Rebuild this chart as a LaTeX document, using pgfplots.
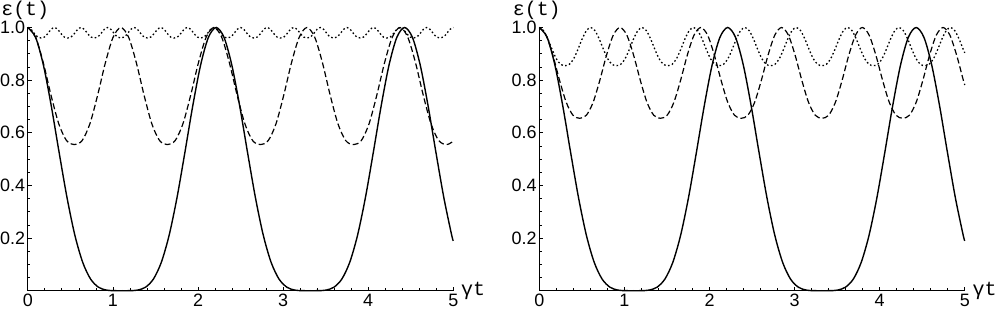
\documentclass[border=0pt]{standalone}
\usepackage{fontspec}
\setmainfont{Liberation Sans}
\newfontfamily\labfont{Liberation Mono}
\usepackage{pgfplots}
\usepackage{pgfplotstable}
\pgfplotsset{compat=1.18}
\newcommand\tl{\fontsize{18}{19}\selectfont}
\newcommand\lf{\labfont\fontsize{20}{22}\selectfont}

% solid curve (same in both panels)
\pgfplotstableread[row sep=\\]{
t v\\
0 1\\ 0.0923 0.9621\\ 0.1845 0.8556\\ 0.2768 0.7003\\ 0.3690 0.5235\\ 0.4613 0.3528\\
0.5535 0.2102\\ 0.6458 0.1072\\ 0.7380 0.0442\\ 0.8303 0.0133\\ 0.9225 0.0023\\ 1.0148 0.0001\\
1.1070 0\\ 1.1993 0.0001\\ 1.2915 0.0023\\ 1.3838 0.0133\\ 1.4760 0.0442\\ 1.5683 0.1072\\
1.6605 0.2102\\ 1.7528 0.3528\\ 1.8450 0.5235\\ 1.9373 0.7003\\ 2.0295 0.8556\\ 2.1218 0.9621\\
2.2140 1\\ 2.3063 0.9621\\ 2.3985 0.8556\\ 2.4908 0.7003\\ 2.5830 0.5235\\ 2.6753 0.3528\\
2.7675 0.2102\\ 2.8598 0.1072\\ 2.9520 0.0442\\ 3.0443 0.0133\\ 3.1365 0.0023\\ 3.2288 0.0001\\
3.3210 0\\ 3.4133 0.0001\\ 3.5055 0.0023\\ 3.5978 0.0133\\ 3.6900 0.0442\\ 3.7823 0.1072\\
3.8745 0.2102\\ 3.9668 0.3528\\ 4.0590 0.5235\\ 4.1513 0.7003\\ 4.2435 0.8556\\ 4.3358 0.9621\\
4.4280 1\\ 4.5203 0.9621\\ 4.6125 0.8556\\ 4.7048 0.7003\\ 4.7970 0.5235\\ 4.8893 0.3528\\
4.9815 0.2102\\ 5 0.1896\\
}\solidtab

% left panel, dashed
\pgfplotstableread[row sep=\\]{
t v\\
0 1\\ 0.0911 0.9631\\ 0.1823 0.8656\\ 0.2734 0.7421\\ 0.3645 0.6337\\ 0.4556 0.5702\\
0.5468 0.555\\ 0.6379 0.5702\\ 0.7290 0.6337\\ 0.8201 0.7421\\ 0.9113 0.8656\\ 1.0024 0.9631\\
1.0935 1\\ 1.1846 0.9631\\ 1.2758 0.8656\\ 1.3669 0.7421\\ 1.4580 0.6337\\ 1.5491 0.5702\\
1.6403 0.555\\ 1.7314 0.5702\\ 1.8225 0.6337\\ 1.9136 0.7421\\ 2.0048 0.8656\\ 2.0959 0.9631\\
2.1870 1\\ 2.2781 0.9631\\ 2.3693 0.8656\\ 2.4604 0.7421\\ 2.5515 0.6337\\ 2.6426 0.5702\\
2.7338 0.555\\ 2.8249 0.5702\\ 2.9160 0.6337\\ 3.0071 0.7421\\ 3.0983 0.8656\\ 3.1894 0.9631\\
3.2805 1\\ 3.3716 0.9631\\ 3.4628 0.8656\\ 3.5539 0.7421\\ 3.6450 0.6337\\ 3.7361 0.5702\\
3.8273 0.555\\ 3.9184 0.5702\\ 4.0095 0.6337\\ 4.1006 0.7421\\ 4.1918 0.8656\\ 4.2829 0.9631\\
4.3740 1\\ 4.4651 0.9631\\ 4.5563 0.8656\\ 4.6474 0.7421\\ 4.7385 0.6337\\ 4.8296 0.5702\\
4.9208 0.555\\ 5 0.568\\
}\leftdashed

% left panel, dotted
\pgfplotstableread[row sep=\\]{
t v\\
0 1\\ 0.0391 0.9928\\ 0.0781 0.9768\\ 0.1172 0.9636\\ 0.1563 0.96\\ 0.1953 0.9636\\ 0.2344 0.9768\\ 0.2734 0.9928\\
0.3125 1\\ 0.3516 0.9928\\ 0.3906 0.9768\\ 0.4297 0.9636\\ 0.4688 0.96\\ 0.5078 0.9636\\ 0.5469 0.9768\\ 0.5859 0.9928\\
0.625 1\\ 0.6641 0.9928\\ 0.7031 0.9768\\ 0.7422 0.9636\\ 0.7813 0.96\\ 0.8203 0.9636\\ 0.8594 0.9768\\ 0.8984 0.9928\\
0.9375 1\\ 0.9766 0.9928\\ 1.0156 0.9768\\ 1.0547 0.9636\\ 1.0938 0.96\\ 1.1328 0.9636\\ 1.1719 0.9768\\ 1.2109 0.9928\\
1.25 1\\ 1.2891 0.9928\\ 1.3281 0.9768\\ 1.3672 0.9636\\ 1.4063 0.96\\ 1.4453 0.9636\\ 1.4844 0.9768\\ 1.5234 0.9928\\
1.5625 1\\ 1.6016 0.9928\\ 1.6406 0.9768\\ 1.6797 0.9636\\ 1.7188 0.96\\ 1.7578 0.9636\\ 1.7969 0.9768\\ 1.8359 0.9928\\
1.875 1\\ 1.9141 0.9928\\ 1.9531 0.9768\\ 1.9922 0.9636\\ 2.0313 0.96\\ 2.0703 0.9636\\ 2.1094 0.9768\\ 2.1484 0.9928\\
2.1875 1\\ 2.2266 0.9928\\ 2.2656 0.9768\\ 2.3047 0.9636\\ 2.3438 0.96\\ 2.3828 0.9636\\ 2.4219 0.9768\\ 2.4609 0.9928\\
2.5 1\\ 2.5391 0.9928\\ 2.5781 0.9768\\ 2.6172 0.9636\\ 2.6563 0.96\\ 2.6953 0.9636\\ 2.7344 0.9768\\ 2.7734 0.9928\\
2.8125 1\\ 2.8516 0.9928\\ 2.8906 0.9768\\ 2.9297 0.9636\\ 2.9688 0.96\\ 3.0078 0.9636\\ 3.0469 0.9768\\ 3.0859 0.9928\\
3.125 1\\ 3.1641 0.9928\\ 3.2031 0.9768\\ 3.2422 0.9636\\ 3.2813 0.96\\ 3.3203 0.9636\\ 3.3594 0.9768\\ 3.3984 0.9928\\
3.4375 1\\ 3.4766 0.9928\\ 3.5156 0.9768\\ 3.5547 0.9636\\ 3.5938 0.96\\ 3.6328 0.9636\\ 3.6719 0.9768\\ 3.7109 0.9928\\
3.75 1\\ 3.7891 0.9928\\ 3.8281 0.9768\\ 3.8672 0.9636\\ 3.9063 0.96\\ 3.9453 0.9636\\ 3.9844 0.9768\\ 4.0234 0.9928\\
4.0625 1\\ 4.1016 0.9928\\ 4.1406 0.9768\\ 4.1797 0.9636\\ 4.2188 0.96\\ 4.2578 0.9636\\ 4.2969 0.9768\\ 4.3359 0.9928\\
4.375 1\\ 4.4141 0.9928\\ 4.4531 0.9768\\ 4.4922 0.9636\\ 4.5313 0.96\\ 4.5703 0.9636\\ 4.6094 0.9768\\ 4.6484 0.9928\\
4.6875 1\\ 4.7266 0.9928\\ 4.7656 0.9768\\ 4.8047 0.9636\\ 4.8438 0.96\\ 4.8828 0.9636\\ 4.9219 0.9768\\ 4.9609 0.9928\\
5 1\\
}\leftdotted

% right panel, dashed
\pgfplotstableread[row sep=\\]{
t v\\
0 1\\ 0.0791 0.9714\\ 0.1582 0.8958\\ 0.2373 0.8001\\ 0.3163 0.7160\\ 0.3954 0.6668\\
0.4745 0.655\\ 0.5536 0.6668\\ 0.6327 0.7160\\ 0.7118 0.8001\\ 0.7908 0.8958\\ 0.8699 0.9714\\
0.949 1\\ 1.0281 0.9714\\ 1.1072 0.8958\\ 1.1863 0.8001\\ 1.2653 0.7160\\ 1.3444 0.6668\\
1.4235 0.655\\ 1.5026 0.6668\\ 1.5817 0.7160\\ 1.6608 0.8001\\ 1.7398 0.8958\\ 1.8189 0.9714\\
1.898 1\\ 1.9771 0.9714\\ 2.0562 0.8958\\ 2.1353 0.8001\\ 2.2143 0.7160\\ 2.2934 0.6668\\
2.3725 0.655\\ 2.4516 0.6668\\ 2.5307 0.7160\\ 2.6098 0.8001\\ 2.6888 0.8958\\ 2.7679 0.9714\\
2.847 1\\ 2.9261 0.9714\\ 3.0052 0.8958\\ 3.0843 0.8001\\ 3.1633 0.7160\\ 3.2424 0.6668\\
3.3215 0.655\\ 3.4006 0.6668\\ 3.4797 0.7160\\ 3.5588 0.8001\\ 3.6378 0.8958\\ 3.7169 0.9714\\
3.796 1\\ 3.8751 0.9714\\ 3.9542 0.8958\\ 4.0333 0.8001\\ 4.1123 0.7160\\ 4.1914 0.6668\\
4.2705 0.655\\ 4.3496 0.6668\\ 4.4287 0.7160\\ 4.5078 0.8001\\ 4.5868 0.8958\\ 4.6659 0.9714\\
4.745 1\\ 4.8241 0.9714\\ 4.9032 0.8958\\ 4.9823 0.8001\\ 5 0.7816\\
}\rightdashed

% right panel, dotted
\pgfplotstableread[row sep=\\]{
t v\\
0 1\\ 0.0503 0.9880\\ 0.1007 0.9562\\ 0.1510 0.9160\\ 0.2013 0.8806\\ 0.2517 0.8599\\
0.3020 0.855\\ 0.3523 0.8599\\ 0.4027 0.8806\\ 0.4530 0.9160\\ 0.5033 0.9562\\ 0.5537 0.9880\\
0.604 1\\ 0.6543 0.9880\\ 0.7047 0.9562\\ 0.7550 0.9160\\ 0.8053 0.8806\\ 0.8557 0.8599\\
0.9060 0.855\\ 0.9563 0.8599\\ 1.0067 0.8806\\ 1.0570 0.9160\\ 1.1073 0.9562\\ 1.1577 0.9880\\
1.208 1\\ 1.2583 0.9880\\ 1.3087 0.9562\\ 1.3590 0.9160\\ 1.4093 0.8806\\ 1.4597 0.8599\\
1.5100 0.855\\ 1.5603 0.8599\\ 1.6107 0.8806\\ 1.6610 0.9160\\ 1.7113 0.9562\\ 1.7617 0.9880\\
1.812 1\\ 1.8623 0.9880\\ 1.9127 0.9562\\ 1.9630 0.9160\\ 2.0133 0.8806\\ 2.0637 0.8599\\
2.1140 0.855\\ 2.1643 0.8599\\ 2.2147 0.8806\\ 2.2650 0.9160\\ 2.3153 0.9562\\ 2.3657 0.9880\\
2.416 1\\ 2.4663 0.9880\\ 2.5167 0.9562\\ 2.5670 0.9160\\ 2.6173 0.8806\\ 2.6677 0.8599\\
2.7180 0.855\\ 2.7683 0.8599\\ 2.8187 0.8806\\ 2.8690 0.9160\\ 2.9193 0.9562\\ 2.9697 0.9880\\
3.020 1\\ 3.0703 0.9880\\ 3.1207 0.9562\\ 3.1710 0.9160\\ 3.2213 0.8806\\ 3.2717 0.8599\\
3.3220 0.855\\ 3.3723 0.8599\\ 3.4227 0.8806\\ 3.4730 0.9160\\ 3.5233 0.9562\\ 3.5737 0.9880\\
3.624 1\\ 3.6743 0.9880\\ 3.7247 0.9562\\ 3.7750 0.9160\\ 3.8253 0.8806\\ 3.8757 0.8599\\
3.9260 0.855\\ 3.9763 0.8599\\ 4.0267 0.8806\\ 4.0770 0.9160\\ 4.1273 0.9562\\ 4.1777 0.9880\\
4.228 1\\ 4.2783 0.9880\\ 4.3287 0.9562\\ 4.3790 0.9160\\ 4.4293 0.8806\\ 4.4797 0.8599\\
4.5300 0.855\\ 4.5803 0.8599\\ 4.6307 0.8806\\ 4.6810 0.9160\\ 4.7313 0.9562\\ 4.7817 0.9880\\
4.832 1\\ 4.8823 0.9880\\ 4.9327 0.9562\\ 4.9830 0.9160\\ 5 0.904\\
}\rightdotted

\pgfplotsset{
  panel/.style={
    scale only axis, width=425.5bp, height=263.2bp,
    xmin=0, xmax=5, ymin=0, ymax=1,
    axis lines=left, axis line style={-, line width=0.8bp, black},
    clip=false,
    /pgf/number format/assume math mode=true,
    xtick={0,1,2,3,4,5}, xticklabels={0,1,2,3,4,5},
    ytick={0,0.2,0.4,0.6,0.8,1}, yticklabels={,0.2,0.4,0.6,0.8,1.0},
    minor x tick num=4, minor y tick num=3,
    tick align=inside, major tick length=4bp, minor tick length=2.5bp,
    tick style={black, line width=0.7bp},
    every tick label/.style={font=\tl, inner sep=2.5bp},
    every x tick label/.style={inner sep=3bp},
    xlabel={γt}, ylabel={ε(t)},
    every axis x label/.style={at={(axis description cs:1.018,0.0)}, anchor=west, inner sep=0pt, font=\lf},
    every axis y label/.style={at={(axis description cs:-0.006,1.101)}, anchor=north, inner sep=0pt, font=\lf},
    every axis plot/.append style={black, smooth},
  },
  sol/.style={line width=1.4bp, solid},
  das/.style={line width=1.2bp, dash pattern=on 6bp off 3bp},
  dot/.style={line width=1.3bp, dash pattern=on 1.6bp off 2.4bp},
}

\begin{document}
\begin{tikzpicture}
\useasboundingbox (0,0) rectangle (999bp,310bp);
\begin{axis}[panel, at={(27.8bp,19.3bp)}, anchor=south west]
  \addplot[sol] table[x=t,y=v] {\solidtab};
  \addplot[das] table[x=t,y=v] {\leftdashed};
  \addplot[dot] table[x=t,y=v] {\leftdotted};
\end{axis}
\begin{axis}[panel, at={(539.3bp,19.3bp)}, anchor=south west]
  \addplot[sol] table[x=t,y=v] {\solidtab};
  \addplot[das] table[x=t,y=v] {\rightdashed};
  \addplot[dot] table[x=t,y=v] {\rightdotted};
\end{axis}
\end{tikzpicture}
\end{document}
